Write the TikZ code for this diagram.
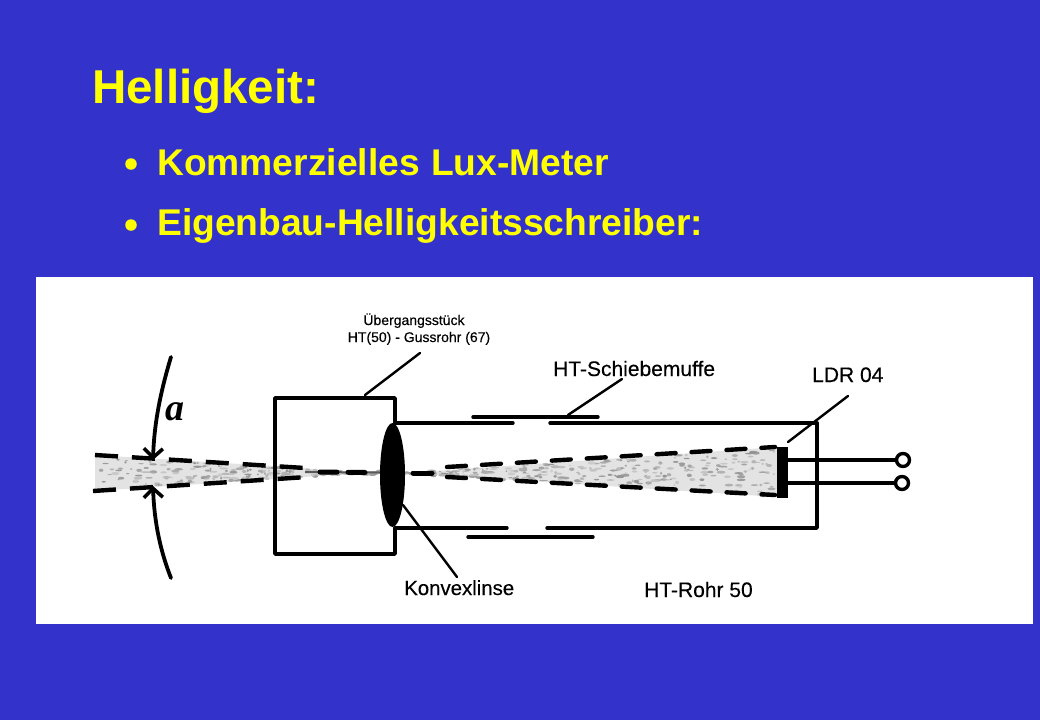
\documentclass[tikz,border=0pt]{standalone}
\usepackage{fontspec}
\setmainfont{Liberation Sans}
\newfontfamily\handfont{Liberation Serif}
\newfontfamily\printfont[FakeBold=0.25]{Liberation Sans}
\usetikzlibrary{arrows.meta}
\definecolor{slideblue}{HTML}{3333CC}
\definecolor{slideyellow}{HTML}{FFFF00}
\tikzset{
  headtext/.style={anchor=base west,inner sep=0pt,text=slideyellow,font=\bfseries\fontsize{37.2}{40}\selectfont},
  dottext/.style={circle,fill=slideyellow,inner sep=0pt,minimum size=11.5pt},
  smalltext/.style={inner sep=0pt,anchor=base,font=\printfont\fontsize{14}{16}\selectfont},
  parttext/.style={inner sep=0pt,anchor=base west,font=\printfont\fontsize{21}{24}\selectfont},
  pipe/.style={line width=3.4pt,line cap=round,line join=round},
  leader/.style={line width=2.4pt,line cap=round},
  ray/.style={line width=4.4pt,line cap=round,dash pattern=on 19pt off 16pt},
  beam/.style={fill=gray!22,draw=none},
  barb/.style={line width=3.8pt,line cap=round,-{Straight Barb[length=9pt,width=19pt,line width=3.6pt]}},
}
\begin{document}
\begin{tikzpicture}[x=1pt,y=-1pt]
  \fill[slideblue] (0,0) rectangle (1040,720);
  \fill[white] (36,277) rectangle (1033,624);
  \node[headtext,font=\bfseries\fontsize{47.5}{50}\selectfont] (title) at (92,103) {Helligkeit:};
  \node[dottext] (dota) at (131,164) {};
  \node[headtext] (lux) at (157,175) {Kommerzielles\hspace{1pt} Lux-Meter};
  \node[dottext] (dotb) at (131,225) {};
  \node[headtext] (self) at (157,235) {Eigenbau-Helligkeitsschreiber:};
  % light beam
  \fill[beam] (95,455) -- (305,468) -- (340,472) -- (420,472) -- (778,447) -- (778,497) -- (420,474) -- (340,474) -- (305,477) -- (95,491) -- cycle;
  \pgfmathsetseed{42}
  \foreach \i in {1,...,520} {
    \pgfmathsetmacro{\px}{100+rnd*675}
    \pgfmathsetmacro{\half}{\px<340 ? 18-(\px-95)*16/245 : (\px<420 ? 2 : 2+(\px-420)*23/355)}
    \pgfmathsetmacro{\py}{473+(2*rnd-1)*\half*0.95}
    \pgfmathsetmacro{\shade}{40+rnd*45}
    \fill[gray!\shade] (\px,\py) ellipse ({1+rnd*3.5} and {0.5+rnd*1.2});
  }
  \draw[line width=2pt,gray!70!black] (305,472) -- (380,472.5);
  \draw[ray,dash pattern=on 23pt off 14pt,line cap=butt] (95,455) -- (305,468);
  \draw[ray,dash pattern=on 23pt off 14pt,line cap=butt] (93,491) -- (307,477);
  \draw[ray,line width=5pt,dash pattern=on 17pt off 11pt] (320,472) -- (367,472.5);
  \draw[ray,line width=5pt] (413,473) -- (433,473);
  \draw[ray] (447,467) -- (775,447);
  \draw[ray] (447,477) -- (775,495);
  % housing
  \draw[pipe] (395,423) -- (395,398) -- (275,398) -- (275,554) -- (395,554) -- (395,528);
  \fill (392.5,475) ellipse (12.5 and 52);
  \draw[pipe] (395,423) -- (513,423);
  \draw[pipe] (550,423) -- (817,423) -- (817,528) -- (547,528);
  \draw[pipe] (507,528) -- (395,528);
  \draw[pipe] (473,417) -- (598,417);
  \draw[pipe] (468,537) -- (593,537);
  % detector
  \fill (777,447) rectangle (788,498);
  \node[circle,draw,line width=3.4pt,minimum size=13pt,inner sep=0pt] (pina) at (903,460) {};
  \node[circle,draw,line width=3.4pt,minimum size=13pt,inner sep=0pt] (pinb) at (902,483) {};
  \coordinate (ldr) at (787,460);
  \coordinate (ldrb) at (787,483);
  \draw[pipe] (ldr) -- (pina);
  \draw[pipe] (ldrb) -- (pinb);
  % angle
  \coordinate (uptip) at (153,460);
  \coordinate (lowtip) at (153,486);
  \draw[barb] (171,357) .. controls (158,400) and (154,430) .. (uptip);
  \draw[barb] (171,578) .. controls (158,545) and (154,515) .. (lowtip);
  \node[inner sep=0pt,anchor=base,font=\handfont\bfseries\itshape\fontsize{38}{38}\selectfont] (alpha) at (175,420) {a};
  % labels
  \node[smalltext] (adapter) at (414,325) {Übergangsstück};
  \node[smalltext] (adapterb) at (419,342) {HT(50) - Gussrohr (67)};
  \node[parttext] (sleeve) at (553,376) {HT-Schiebemuffe};
  \node[parttext] (ldrtext) at (812,382) {LDR 04};
  \node[parttext,font=\printfont\fontsize{20.4}{24}\selectfont] (lens) at (404,595) {Konvexlinse};
  \node[parttext] (tube) at (644,597) {HT-Rohr 50};
  \coordinate (adapterend) at (420,353);
  \coordinate (adapterfoot) at (365,395);
  \coordinate (sleeveend) at (622,379);
  \coordinate (sleevefoot) at (568,415);
  \coordinate (ldrend) at (848,396);
  \coordinate (ldrfoot) at (788,442);
  \coordinate (lensend) at (457,577);
  \coordinate (lensfoot) at (403,505);
  \draw[leader] (adapterend) -- (adapterfoot);
  \draw[leader] (sleeveend) -- (sleevefoot);
  \draw[leader] (ldrend) -- (ldrfoot);
  \draw[leader] (lensend) -- (lensfoot);
\end{tikzpicture}
\end{document}
